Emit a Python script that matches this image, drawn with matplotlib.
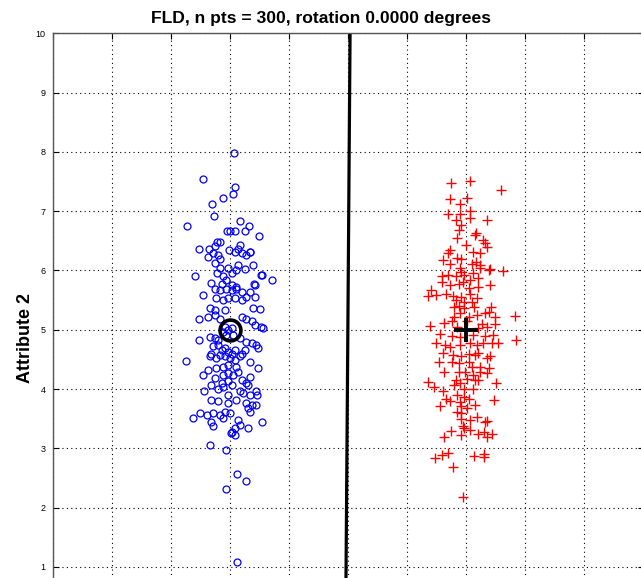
import numpy as np
import matplotlib
matplotlib.use("Agg")
import matplotlib.pyplot as plt

# class 1 (blue circles)
blue_x = [0.07, -0.46, 0.09, 0.06, -0.12, -0.30, -0.27, -0.73, 0.18, 0.32, 0.50,
          -0.05, 0.01, 0.09, 0.26, -0.52, -0.16, -0.21,
          -0.35, -0.25, -0.28, -0.37, -0.20, -0.16,
          -0.01, 0.08, 0.14, 0.17, 0.20, 0.28, 0.34, 0.35,
          0.39, -0.59, 0.53, 0.55, 0.72, 0.41,
          -0.25, -0.21, -0.17, -0.11, -0.03, 0.03, 0.11, 0.14, 0.25, -0.06, -0.14, -0.31, 0.03, 0.11,
          -0.25, -0.17, -0.06, 0.03, 0.11, 0.20, 0.34, 0.42,
          -0.45, -0.23, -0.11, -0.03, 0.08, 0.20, 0.28, 0.42,
          -0.34, -0.25, -0.08, 0.39, 0.51,
          -0.52, -0.37, -0.25, -0.17, 0.20, 0.28, 0.37, 0.42, 0.53, 0.56,
          -0.08, -0.03, 0.03, -0.06, 0.06, -0.11,
          -0.52, -0.34, -0.25, -0.20, 0.17, 0.28, 0.37, 0.45, 0.48,
          -0.28, -0.20, -0.14, -0.08, -0.03, 0.03, 0.08, -0.17, -0.08, 0.00, -0.23, -0.31, -0.34, 0.08, 0.17,
          -0.74, 0.34, 0.20, 0.25,
          -0.45, -0.37, -0.23, -0.11, -0.03, 0.11, 0.14, 0.48, 0.34,
          -0.11, -0.03, 0.05, -0.25, -0.03, -0.14, 0.03, -0.31, 0.20, 0.28, 0.31,
          -0.44, -0.20, -0.11, -0.03, 0.17, 0.23, 0.34, 0.44, 0.46,
          -0.31, -0.20, -0.03, 0.11, 0.28, 0.37, 0.45,
          -0.62, -0.51, -0.39, -0.28, -0.17, -0.08, 0.00, -0.31, -0.11, 0.14, 0.31, 0.34, 0.54,
          0.31, 0.17, 0.08, 0.03, -0.29,
          0.02, 0.09, -0.33, -0.07, 0.12, 0.27, -0.07, 0.12]
blue_y = [7.98, 7.54, 7.40, 7.29, 7.23, 7.12, 6.92, 6.75, 6.83, 6.75, 6.59,
          6.67, 6.67, 6.67, 6.67, 6.36, 6.48, 6.48,
          6.36, 6.41, 6.29, 6.23, 6.26, 6.20,
          6.35, 6.32, 6.36, 6.43, 6.29, 6.26, 6.32, 6.31,
          6.09, 5.91, 5.92, 5.92, 5.84, 5.77,
          6.13, 5.95, 6.04, 5.90, 6.04, 5.95, 6.01, 6.09, 6.02, 5.84, 5.78, 5.79, 5.76, 5.73,
          5.69, 5.67, 5.69, 5.67, 5.69, 5.64, 5.64, 5.75,
          5.59, 5.53, 5.50, 5.53, 5.53, 5.50, 5.56, 5.56,
          5.36, 5.33, 5.33, 5.36, 5.35,
          5.19, 5.22, 5.25, 5.19, 5.22, 5.19, 5.14, 5.08, 5.05, 5.03,
          5.05, 5.00, 5.03, 4.91, 4.91, 4.97,
          4.83, 4.88, 4.86, 4.83, 4.86, 4.80, 4.77, 4.74, 4.69,
          4.72, 4.74, 4.66, 4.69, 4.63, 4.60, 4.66, 4.58, 4.55, 4.52, 4.52, 4.60, 4.55, 4.49, 4.55,
          4.47, 4.45, 4.60, 4.66,
          4.24, 4.32, 4.35, 4.38, 4.41, 4.38, 4.29, 4.35, 4.21,
          4.24, 4.27, 4.24, 4.18, 4.13, 4.10, 4.07, 4.07, 4.15, 4.10, 4.07,
          3.96, 4.01, 4.04, 3.90, 3.96, 3.93, 3.90, 3.96, 3.90,
          3.82, 3.80, 3.76, 3.82, 3.76, 3.73, 3.74,
          3.51, 3.59, 3.56, 3.59, 3.56, 3.62, 3.59, 3.45, 3.51, 3.48, 3.68, 3.62, 3.45,
          3.35, 3.39, 3.34, 3.28, 3.37,
          3.26, 3.23, 3.05, 2.98, 2.56, 2.45, 2.32, 1.09]

# class 2 (red crosses)
red_x = [4.06, 3.75, 4.59, 4.02, 3.72, 3.89, 4.07, 3.70, 3.90, 4.06, 3.82, 4.36,
         3.91, 3.87, 4.16, 4.15, 3.84, 4.29, 4.32, 4.35, 4.00, 3.72, 3.69, 4.12, 4.24,
         3.84, 3.92, 3.61, 4.17, 4.10, 4.23, 3.72, 3.89, 3.92, 4.24, 4.38, 4.41, 4.63,
         3.59, 3.70, 3.82, 3.97, 4.12, 4.20, 4.07,
         3.59, 3.73, 3.87, 3.95, 4.04, 4.20, 4.41,
         3.40, 3.36, 3.49, 3.66, 3.78, 3.92, 4.07, 3.82, 3.96, 4.10, 4.18,
         3.79, 3.87, 3.97, 4.14, 4.42, 4.39, 3.79, 3.90, 4.04, 4.18, 4.32, 4.49, 4.82,
         4.01, 4.26, 4.35, 4.49, 3.38, 3.62, 3.76, 3.84, 4.20,
         3.56, 3.76, 3.90, 4.12, 4.32, 4.46,
         3.49, 3.64, 3.73, 3.90, 4.07, 4.18, 4.29, 4.43, 4.53, 4.85,
         3.61, 3.78, 3.92, 4.04, 4.15, 4.20, 4.35, 4.41,
         3.54, 3.76, 3.87, 4.04, 4.10, 4.24, 4.38,
         3.63, 3.87, 3.98, 4.12, 4.24, 4.35,
         3.36, 3.45, 3.61, 3.82, 3.90, 4.01, 4.15, 4.20, 4.51,
         3.79, 3.96, 4.12, 3.84, 3.96, 3.65, 3.73, 3.90, 4.04, 4.47,
         3.56, 3.92, 4.15, 3.84, 3.91, 4.02,
         3.92, 4.06, 4.18, 4.32, 4.35,
         3.94, 3.96, 4.06,
         3.74, 3.63, 3.91, 4.20, 4.30, 4.36, 4.43,
         3.47, 3.59, 3.70, 4.13, 4.30, 4.30,
         3.78, 3.94]
red_y = [7.51, 7.47, 7.36, 7.23, 7.20, 7.12, 7.01, 6.95, 6.95, 6.88, 6.86, 6.85,
         6.77, 6.69, 6.64, 6.60, 6.54, 6.51, 6.46, 6.39, 6.43, 6.35, 6.29, 6.32, 6.30,
         6.21, 6.19, 6.17, 6.15, 6.11, 6.09, 6.11, 6.04, 5.98, 6.04, 6.01, 6.02, 5.99,
         5.91, 5.92, 5.90, 5.92, 5.95, 5.87, 5.84,
         5.81, 5.76, 5.78, 5.81, 5.70, 5.72, 5.76,
         5.67, 5.57, 5.59, 5.61, 5.57, 5.56, 5.60, 5.50, 5.47, 5.47, 5.53,
         5.38, 5.40, 5.36, 5.38, 5.39, 5.30, 5.22, 5.28, 5.22, 5.25, 5.28, 5.22, 5.23,
         5.14, 5.10, 5.05, 5.10, 5.06, 5.11, 5.14, 5.05, 5.03,
         4.93, 4.90, 4.88, 4.91, 4.90, 4.91,
         4.77, 4.74, 4.71, 4.74, 4.77, 4.74, 4.78, 4.77, 4.77, 4.82,
         4.61, 4.58, 4.56, 4.60, 4.58, 4.61, 4.52, 4.55,
         4.46, 4.46, 4.44, 4.46, 4.38, 4.38, 4.35,
         4.29, 4.28, 4.29, 4.24, 4.28, 4.27,
         4.12, 4.04, 3.97, 4.15, 4.10, 4.17, 4.15, 4.15, 4.11,
         4.07, 4.00, 4.01, 3.90, 3.87, 3.84, 3.80, 3.79, 3.84, 3.82,
         3.72, 3.72, 3.73, 3.62, 3.60, 3.68,
         3.49, 3.48, 3.53, 3.45, 3.47,
         3.38, 3.34, 3.31,
         3.30, 3.20, 3.23, 3.24, 3.28, 3.20, 3.24,
         2.83, 2.89, 2.92, 2.87, 2.91, 2.85,
         2.68, 2.18]

# class means
mean_blue = (0.0, 5.0)
mean_red = (4.0, 5.0)

# FLD decision boundary (nearly vertical)
boundary_y = [0.0, 10.0]
boundary_x = [1.96, 2.035]

title_text = "FLD, n pts = 300, rotation 0.0000 degrees"
ylabel_text = "Attribute 2"
y_ticks = [1, 2, 3, 4, 5, 6, 7, 8, 9, 10]
x_ticks = [-3, -2, -1, 0, 1, 2, 3, 4, 5, 6, 7]

fig = plt.figure(figsize=(6.41, 5.78), dpi=100)
# axes runs off the bottom/right of the picture like in the reference,
# so the x tick labels end up below the visible area
ax = fig.add_axes([52.5 / 641, 1 - 33.3 / 578 - 593 / 578, 591 / 641, 593 / 578])

ax.plot(blue_x, blue_y, 'o', mfc='none', mec='blue', ms=5, mew=0.9)
ax.plot(red_x, red_y, '+', color='red', ms=7, mew=1.0)
ax.plot(boundary_x, boundary_y, '-', color='black', lw=2.3)
ax.plot(mean_blue[0], mean_blue[1], 'o', mfc='none', mec='black', ms=15, mew=2.6)
ax.plot(mean_red[0], mean_red[1], '+', color='black', ms=17, mew=2.8)

ax.set_xlim(-3, 7)
ax.set_ylim(0, 10)
ax.set_xticks(x_ticks)
ax.set_yticks(y_ticks)
ax.grid(True, linestyle=(0, (1, 3)), color='black', lw=0.8)
ax.tick_params(direction='in', length=4, labelsize=6.5, right=True, top=True,
               labelfontfamily='Liberation Sans', pad=5)
for s in ax.spines.values():
    s.set_color('#555555')
    s.set_linewidth(1.0)

# title sits a bit left of the axes centre in the reference
fig.text(321 / 641, 1 - 18 / 578, title_text, ha='center', va='center',
         fontsize=12.6, fontweight='bold', family='Liberation Sans')
ax.set_ylabel(ylabel_text, fontsize=13, fontweight='bold', family='Liberation Sans')
ax.yaxis.set_label_coords(-18.5 / 591, 0.486)

fig.savefig("out.png", dpi=100)
